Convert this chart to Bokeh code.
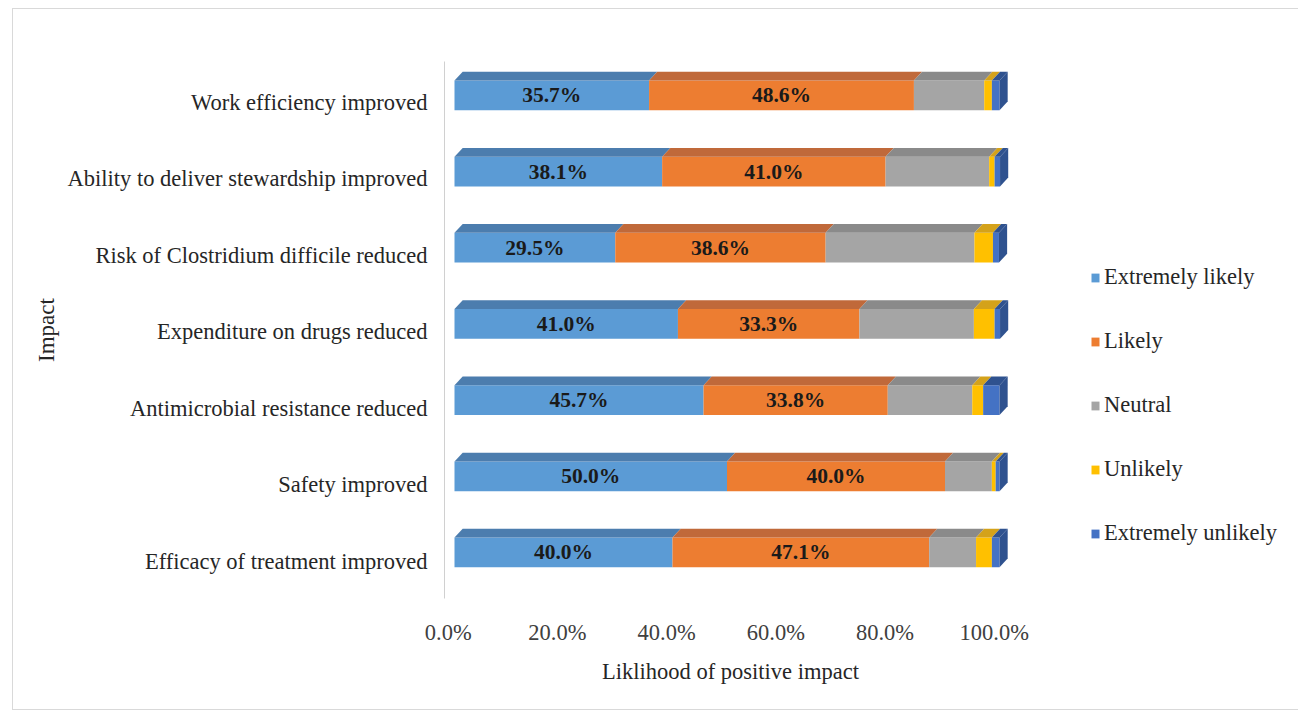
from bokeh.plotting import figure
from bokeh.models import (ColumnDataSource, Range1d, LinearAxis, FixedTicker,
                          PrintfTickFormatter, Legend, LegendItem)
from bokeh.embed import file_html
from bokeh.resources import INLINE
from bokeh.core.properties import value

# ---------------- data ----------------
categories = ["Efficacy of treatment improved", "Safety improved",
              "Antimicrobial resistance reduced", "Expenditure on drugs reduced",
              "Risk of Clostridium difficile reduced",
              "Ability to deliver stewardship improved", "Work efficiency improved"]
extremely_likely = [40.0, 50.0, 45.7, 41.0, 29.5, 38.1, 35.7]
likely = [47.1, 40.0, 33.8, 33.3, 38.6, 41.0, 48.6]
neutral = [8.6, 8.6, 15.5, 21.0, 27.3, 19.0, 12.9]
unlikely = [2.9, 0.7, 2.0, 3.8, 3.4, 1.0, 1.4]
extremely_unlikely = [1.4, 0.7, 3.0, 1.0, 1.1, 1.0, 1.4]
series_names = ["Extremely likely", "Likely", "Neutral", "Unlikely", "Extremely unlikely"]
x_ticks = [0, 20, 40, 60, 80, 100]

# ---------------- style ----------------
front_colors = ["#5B9BD5", "#ED7D31", "#A5A5A5", "#FFC000", "#4472C4"]
top_colors = ["#4C7DAE", "#C0693A", "#8A8A8A", "#D4A21A", "#2F528F"]
FONT = "Liberation Serif"
BAR_H = 0.39     # front face height (row units)
DX = 1.5         # 3D depth in x (percent units)
DY = 0.115       # 3D depth in y (row units)

series = [extremely_likely, likely, neutral, unlikely, extremely_unlikely]

p = figure(x_range=Range1d(-1.835, 103.12), y_range=Range1d(-0.604, 6.444),
           frame_width=572, frame_height=537,
           min_border_left=431, min_border_right=275,
           min_border_top=52, min_border_bottom=111,
           x_axis_location=None, y_axis_location=None,
           toolbar_location=None, output_backend="svg")
p.margin = (8, 0, 0, 12)
p.styles = {"border": "1px solid #d9d9d9"}
p.outline_line_color = None
p.background_fill_color = "white"
p.border_fill_color = "white"
p.grid.visible = False

p.extra_x_ranges = {"ax": Range1d(-0.68, 104.08)}
p.extra_y_ranges = {"ay": Range1d(-0.484, 6.536)}

n = len(categories)
rows = list(range(n))
cum = [0.0] * n
legend_items = []
for k, (name, vals) in enumerate(zip(series_names, series)):
    left = cum[:]
    right = [a + b for a, b in zip(left, vals)]
    src = ColumnDataSource(dict(y=rows, left=left, right=right))
    r = p.hbar(y="y", left="left", right="right", height=BAR_H, source=src,
               fill_color=front_colors[k], line_color=None)
    legend_items.append(LegendItem(label=name, renderers=[r]))
    # top faces
    xs, ys = [], []
    for i in rows:
        yt = i + BAR_H / 2
        xs.append([left[i], right[i], right[i] + DX, left[i] + DX])
        ys.append([yt, yt, yt + DY, yt + DY])
    p.patches(xs, ys, fill_color=top_colors[k], line_color=None)
    cum = right

# side faces on the right end (colour of the last segment with width > 0)
sxs, sys_, scol = [], [], []
for i in rows:
    last = max(k for k in range(len(series)) if series[k][i] > 0)
    xe = cum[i]
    yb, yt = i - BAR_H / 2, i + BAR_H / 2
    sxs.append([xe, xe + DX, xe + DX, xe])
    sys_.append([yb, yb + DY, yt + DY, yt])
    scol.append(top_colors[last])
p.patches(sxs, sys_, fill_color=scol, line_color=None)

# value labels for first two series
lab_x, lab_y, lab_t = [], [], []
c0 = [0.0] * n
for k in range(2):
    for i in rows:
        lab_x.append(c0[i] + series[k][i] / 2)
        lab_y.append(i)
        lab_t.append(f"{series[k][i]:.1f}%")
    c0 = [a + b for a, b in zip(c0, series[k])]
p.text(x=lab_x, y=lab_y, text=lab_t, text_align="center", text_baseline="middle",
       text_font=value(FONT), text_font_style="bold", text_font_size="21.5px",
       text_color="#1a1a1a")

# axes
xaxis = LinearAxis(x_range_name="ax", ticker=FixedTicker(ticks=x_ticks),
                   formatter=PrintfTickFormatter(format="%.1f%%"))
xaxis.axis_label = "Liklihood of positive impact"
xaxis.axis_line_color = None
xaxis.major_tick_line_color = None
xaxis.minor_tick_line_color = None
xaxis.major_label_text_font = FONT
xaxis.major_label_text_font_size = "22.5px"
xaxis.major_label_text_color = "#404040"
xaxis.major_label_standoff = 15
xaxis.axis_label_text_font = FONT
xaxis.axis_label_text_font_size = "22.5px"
xaxis.axis_label_text_font_style = "normal"
xaxis.axis_label_text_color = "#262626"
xaxis.axis_label_standoff = 11
p.add_layout(xaxis, "below")

yaxis = LinearAxis(y_range_name="ay", ticker=FixedTicker(ticks=rows))
yaxis.major_label_overrides = {i: c for i, c in zip(rows, categories)}
yaxis.axis_label = "Impact"
yaxis.axis_line_color = "#d0d0d0"
yaxis.major_tick_line_color = None
yaxis.minor_tick_line_color = None
yaxis.major_label_text_font = FONT
yaxis.major_label_text_font_size = "22.5px"
yaxis.major_label_text_color = "#262626"
yaxis.major_label_standoff = 11
yaxis.axis_label_text_font = FONT
yaxis.axis_label_text_font_size = "23px"
yaxis.axis_label_text_font_style = "normal"
yaxis.axis_label_text_color = "#262626"
yaxis.axis_label_standoff = 6
p.add_layout(yaxis, "left")

legend = Legend(items=legend_items, location=(74, 52),
                label_text_font=FONT, label_text_font_size="22.5px",
                label_text_color="#262626",
                glyph_width=10, glyph_height=11, label_height=26,
                spacing=38, padding=0, margin=0, label_standoff=4,
                border_line_color=None, background_fill_alpha=0)
p.add_layout(legend, "right")

open("out.html", "w").write(file_html(p, INLINE))
